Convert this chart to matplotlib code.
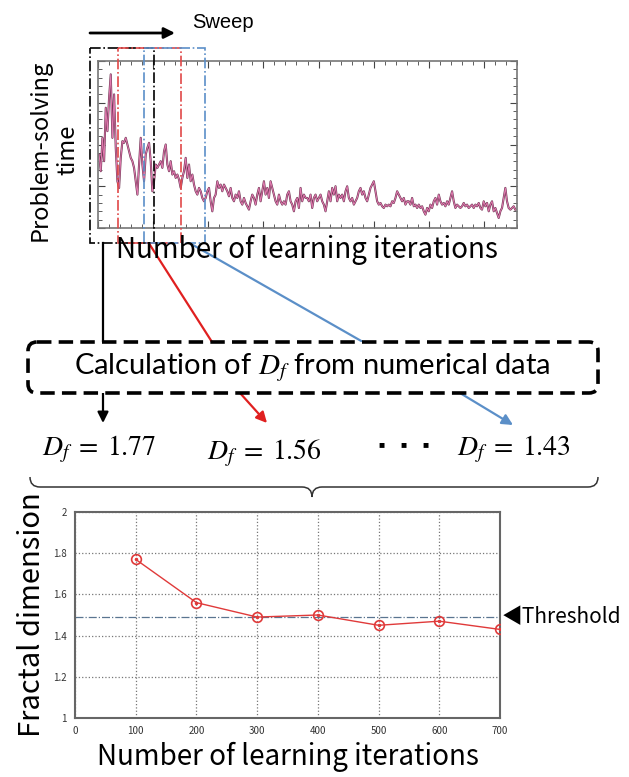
import numpy as np
import matplotlib
matplotlib.use('Agg')
from matplotlib import pyplot as plt
from matplotlib.patches import FancyBboxPatch, Rectangle, PathPatch
from matplotlib.path import Path
from matplotlib.ticker import MultipleLocator

plt.rcParams['font.family'] = ['Noto Sans CJK JP', 'DejaVu Sans']
plt.rcParams['mathtext.fontset'] = 'stix'

# problem-solving time during learning (arbitrary units)
time_vals = [22, 17, 27, 20, 36, 29, 39, 46, 27, 40, 24, 14, 12, 21, 26, 25.5, 27, 25, 23, 21,
             20, 18, 14, 10, 19, 27, 19, 14, 22, 24, 25.5, 20, 11, 14, 19, 18, 19, 20, 18, 23,
             25, 19, 17, 20, 16, 17, 15, 16, 14.5, 12, 15, 17, 21, 15, 19, 14, 16, 13, 11, 10,
             12, 11, 9, 8, 9, 11, 12, 8, 5, 9, 10, 14, 12, 13, 11, 13, 12, 11, 9.5, 12,
             9, 8, 10, 9, 11, 8, 7, 9, 7.5, 6.5, 5.5, 8, 10, 9, 7, 10, 12, 8, 11, 14,
             10, 12, 9, 14, 12, 10, 8, 7, 10, 8, 7, 8, 7, 10, 11, 8, 7, 5, 8, 9,
             6, 12, 8, 10, 9,
             9, 8, 10, 6, 9, 10, 8, 9, 10, 8, 7, 5, 8, 11, 8, 12, 10, 12.5, 8, 10,
             9, 10, 8, 11, 12.5, 9, 8, 9, 7, 8, 9, 11, 12, 10, 11, 9, 8, 10, 12, 13,
             14, 11, 8, 7, 7.5, 6.5, 6, 7, 6.5, 7, 6.5, 8, 7.5, 9, 11, 10, 9, 8, 9, 7,
             8, 8, 7, 9, 6.5, 7, 6, 7, 6, 6.5, 5, 4, 6, 5, 7, 6, 8, 9, 7, 10,
             8, 7, 7.5, 6.5, 8, 7, 9, 11, 8, 6, 7, 6.5, 6, 6.5, 7.5, 6.5, 7, 6, 6.5, 7,
             6, 7, 6.5, 7.5, 6, 5.5, 8, 6.5, 7.5, 5, 7, 8, 5, 6, 4.5, 3, 5, 6, 9, 12,
             8, 6, 5.5, 6, 6.5, 5.5]
time_start, time_end = 2, 757

# fractal dimension per window
iters = [100, 200, 300, 400, 500, 600, 700]
frac_dim = [1.77, 1.56, 1.49, 1.50, 1.45, 1.47, 1.43]
threshold = 1.49
df_labels = ['1.77', '1.56', '1.43']

W, H = 629, 777
fig = plt.figure(figsize=(W / 100, H / 100), dpi=100)


def px_axes(x0, y0, x1, y1):
    return fig.add_axes([x0 / W, 1 - y1 / H, (x1 - x0) / W, (y1 - y0) / H])


# ---- upper panel: time series
ax1 = px_axes(98, 61, 517, 228)
xs = np.linspace(time_start, time_end, len(time_vals))
ax1.plot(xs, time_vals, color='#6e3552', lw=1.5)
ax1.plot(xs, time_vals, color='#e27ab0', lw=0.7)
ax1.set_xlim(0, 760)
ax1.set_ylim(0, 50)
ax1.xaxis.set_major_locator(MultipleLocator(100))
ax1.xaxis.set_minor_locator(MultipleLocator(20))
ax1.yaxis.set_major_locator(MultipleLocator(12.5))
ax1.yaxis.set_minor_locator(MultipleLocator(2.5))
ax1.tick_params(which='both', direction='in', top=True, right=True,
                labelbottom=False, labelleft=False, color='#444')
ax1.tick_params(which='major', length=5)
ax1.tick_params(which='minor', length=3)
for s in ax1.spines.values():
    s.set_color('#777')
    s.set_linewidth(1.2)

# ---- lower panel: fractal dimension
ax2 = px_axes(75, 512, 500, 718)
ax2.plot(iters, frac_dim, color='#e03a3a', lw=1.0, marker='o', ms=7,
         mfc='none', mec='#e03a3a', mew=1.2, zorder=3)
ax2.plot(iters, frac_dim, ls='none', marker='.', ms=3, color='#e03a3a', zorder=3)
ax2.axhline(threshold, color='#5a7590', lw=0.9, ls='-.')
ax2.set_xlim(0, 700)
ax2.set_ylim(1, 2)
ax2.set_xticks(range(0, 701, 100))
ax2.set_yticks([1, 1.2, 1.4, 1.6, 1.8, 2])
ax2.set_yticklabels(['1', '1.2', '1.4', '1.6', '1.8', '2'])
ax2.grid(True, ls=':', color='#777', lw=0.9)
ax2.tick_params(length=0, labelsize=7, colors='#333', pad=6)
for s in ax2.spines.values():
    s.set_color('#666')
    s.set_linewidth(1.5)
ax2.text(702, threshold, '\u25c0Threshold', ha='left', va='center', fontsize=15,
         clip_on=False)
ax2.set_xlabel('Number of learning iterations', fontsize=20, labelpad=4)
ax2.set_ylabel('Fractal dimension', fontsize=21, labelpad=4)

# ---- overlay in pixel coordinates for the diagram parts
ov = fig.add_axes([0, 0, 1, 1], facecolor='none')
ov.set_xlim(0, W)
ov.set_ylim(H, 0)
ov.axis('off')

# sweep arrow
ov.annotate('', xy=(175, 33), xytext=(90, 33),
            arrowprops=dict(arrowstyle='-|>', color='black', lw=2,
                            mutation_scale=16, shrinkA=0, shrinkB=0))
ov.text(192, 22, 'Sweep', fontsize=14.5, ha='left', va='center',
        family=['Liberation Sans', 'DejaVu Sans'])

# sweeping windows
win_cols = ['black', '#e04848', '#5b8fc8']
win_x = [(90, 154), (118, 181), (144, 205)]
for (a, b), c in zip(win_x, win_cols):
    ov.add_patch(Rectangle((a, 48), b - a, 195, fill=False, ec=c, lw=1.2, ls='-.'))

ov.text(54, 150, 'Problem-solving\ntime', rotation=90, ha='center', va='center',
        fontsize=17, multialignment='center', linespacing=1.25)
ov.text(307, 250, 'Number of learning iterations', ha='center', va='center', fontsize=20)

# connectors
ov.plot([103, 103], [243, 342], color='black', lw=1.6)
ov.plot([150, 212], [245, 342], color='#e02020', lw=1.6)
ov.plot([193, 363], [245, 342], color='#5b8fc8', lw=1.6)
for (x0, y0, x1, y1), c in zip([(103, 393, 103, 423), (240, 393, 267, 423),
                                (460, 393, 513, 425)], ['black', '#e02020', '#5b8fc8']):
    ov.annotate('', xy=(x1, y1), xytext=(x0, y0),
                arrowprops=dict(arrowstyle='-|>', color=c, lw=1.6,
                                mutation_scale=16, shrinkA=0, shrinkB=0))

box = FancyBboxPatch((28, 342), 570, 51, boxstyle='round,pad=0,rounding_size=9',
                     fill=True, fc='white', ec='black', lw=2.6, ls=(0, (4, 2)), zorder=5)
ov.add_patch(box)
ov.text(312, 368, r'Calculation of $D_f$ from numerical data', ha='center', va='center',
        fontsize=21, family=['Lato', 'DejaVu Sans'], zorder=6)

# fractal dimension values
ov.text(42, 449, r'$D_f\;=\;%s$' % df_labels[0], ha='left', va='center', fontsize=20)
ov.text(207, 453, r'$D_f\;=\;%s$' % df_labels[1], ha='left', va='center', fontsize=20)
ov.text(404, 447, '\u25aa \u25aa \u25aa', ha='center', va='center', fontsize=13)
ov.text(457, 449, r'$D_f\;=\;%s$' % df_labels[2], ha='left', va='center', fontsize=20)

# brace
verts = [(30, 477), (30, 487), (40, 487), (302, 487), (312, 487), (312, 497),
         (312, 487), (322, 487), (588, 487), (598, 487), (598, 477)]
codes = [Path.MOVETO, Path.CURVE3, Path.CURVE3, Path.LINETO, Path.CURVE3, Path.CURVE3,
         Path.CURVE3, Path.CURVE3, Path.LINETO, Path.CURVE3, Path.CURVE3]
ov.add_patch(PathPatch(Path(verts, codes), fill=False, ec='#333', lw=1.1))

fig.savefig('out.png', dpi=100)
